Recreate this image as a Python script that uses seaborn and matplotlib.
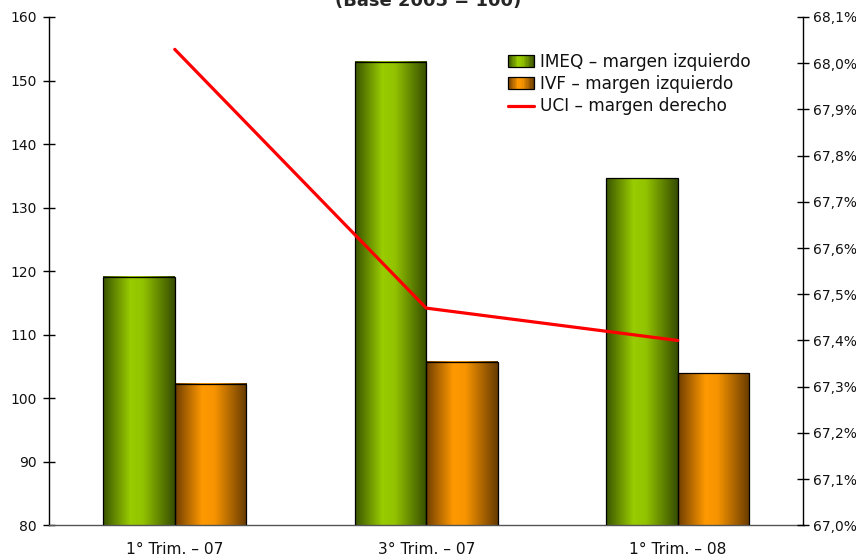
import numpy as np
import pandas as pd
import seaborn as sns
import matplotlib.pyplot as plt
from matplotlib.colors import LinearSegmentedColormap
from matplotlib.patches import Rectangle
from matplotlib.lines import Line2D
from matplotlib.legend_handler import HandlerBase

sns.set_theme(style='white')
plt.rcParams['font.family'] = ['DejaVu Sans']

# data
trimestres = ['1° Trim. – 07', '3° Trim. – 07', '1° Trim. – 08']
imeq = [119.1, 152.9, 134.6]
ivf = [102.2, 105.7, 103.9]
uci = [68.03, 67.47, 67.40]
serie_names = ['IMEQ – margen izquierdo', 'IVF – margen izquierdo']
uci_name = 'UCI – margen derecho'

green_cmap = LinearSegmentedColormap.from_list(
    'g', [(0, '#3a5400'), (0.38, '#99cc00'), (0.55, '#93c400'), (1, '#364d00')])
orange_cmap = LinearSegmentedColormap.from_list(
    'o', [(0, '#703e00'), (0.38, '#ff9900'), (0.55, '#f79400'), (1, '#663a00')])
cmaps = [green_cmap, orange_cmap]

df = pd.DataFrame({
    'trim': trimestres * 2,
    'valor': imeq + ivf,
    'serie': [serie_names[0]] * 3 + [serie_names[1]] * 3,
})

fig = plt.figure(figsize=(8.56, 5.59), dpi=100)
ax = fig.add_axes([49 / 856, 1 - 525.3 / 559, (803.5 - 49) / 856, (525.3 - 17) / 559])

sns.barplot(data=df, x='trim', y='valor', hue='serie', order=trimestres,
            hue_order=serie_names, width=0.57, gap=0, ax=ax,
            palette=['#99cc00', '#ff9900'], edgecolor='black', linewidth=0.9,
            legend=False, zorder=3)

ax.set_ylim(80, 160)
ax.set_xlim(-0.5, 2.5)

# gradient fill inside each bar
grad = np.linspace(0, 1, 256).reshape(1, -1)
for i, bar in enumerate(ax.patches):
    x0 = bar.get_x()
    w = bar.get_width()
    h = bar.get_y() + bar.get_height()
    cmap = cmaps[i // 3]
    ax.imshow(grad, cmap=cmap, aspect='auto', extent=[x0, x0 + w, 80, h],
              zorder=2, interpolation='bilinear')
    bar.set_facecolor('none')
ax.set_xlim(-0.5, 2.5)
ax.set_ylim(80, 160)

ax.set_xlabel('')
ax.set_ylabel('')
ax.set_yticks(np.arange(80, 161, 10))
ax.set_xticks([0.5, 1.5], minor=False)
ax.set_xticks([0, 1, 2], minor=True)
ax.set_xticklabels(['', ''])
ax.set_xticklabels(trimestres, minor=True)
ax.tick_params(axis='x', which='major', direction='inout', length=8, width=1, color='black')
ax.tick_params(axis='x', which='minor', length=0, pad=12, labelsize=11.2, labelcolor='#111111')
ax.tick_params(axis='y', direction='inout', length=8, width=1, color='black',
               labelsize=10, pad=5, left=True, labelcolor='#111111')

ax2 = ax.twinx()
ax2.set_position(ax.get_position())
sns.lineplot(x=np.arange(len(uci)), y=uci, ax=ax2, color='#ff0000', linewidth=2.3, zorder=5)
ax2.set_ylim(67.0, 68.1)
ax2.set_yticks(np.round(np.arange(67.0, 68.11, 0.1), 1))
ax2.set_yticklabels([f'{v:.1f}%'.replace('.', ',') for v in np.arange(67.0, 68.11, 0.1)])
ax2.tick_params(axis='y', direction='inout', length=8, width=1, color='black',
                labelsize=10, pad=3, right=True, labelcolor='#111111')
ax2.set_xlim(-0.5, 2.5)

for a in (ax, ax2):
    a.spines['top'].set_visible(False)
    a.spines['left'].set_color('black')
    a.spines['right'].set_color('black')
    a.spines['bottom'].set_color('#555555')
    for s in a.spines.values():
        s.set_linewidth(1)
ax.spines['right'].set_visible(False)
ax2.spines['left'].set_visible(False)
ax2.spines['bottom'].set_visible(False)


class GradientHandler(HandlerBase):
    def __init__(self, cmap):
        super().__init__()
        self.cmap = cmap

    def create_artists(self, legend, orig_handle, xdescent, ydescent, width, height,
                       fontsize, trans):
        artists = []
        n = 20
        for k in range(n):
            artists.append(Rectangle((-xdescent + width * k / n, -ydescent), width / n + 0.3,
                                     height, facecolor=self.cmap((k + 0.5) / n),
                                     edgecolor='none', transform=trans))
        artists.append(Rectangle((-xdescent, -ydescent), width, height, facecolor='none',
                                 edgecolor='black', linewidth=0.9, transform=trans))
        return artists


h1 = Rectangle((0, 0), 1, 1)
h2 = Rectangle((0, 0), 1, 1)
h3 = Line2D([0], [0], color='#ff0000', linewidth=2.3)
fig.legend([h1, h2, h3], serie_names + [uci_name], loc='upper left',
           bbox_to_anchor=(508 / 856, 1 - 53 / 559), frameon=False, fontsize=12.2,
           handlelength=1.55, handleheight=0.7, handletextpad=0.32, labelspacing=0.25,
           borderpad=0, borderaxespad=0, labelcolor='#111111',
           handler_map={h1: GradientHandler(green_cmap), h2: GradientHandler(orange_cmap)})

# the reference shows only the lower part of its title, cut by the top edge
fig.text(428 / 856, 1 - 6 / 559, '(Base 2005 = 100)', ha='center', va='baseline',
         fontsize=13, fontweight='bold')

fig.savefig('out.png', dpi=100)
